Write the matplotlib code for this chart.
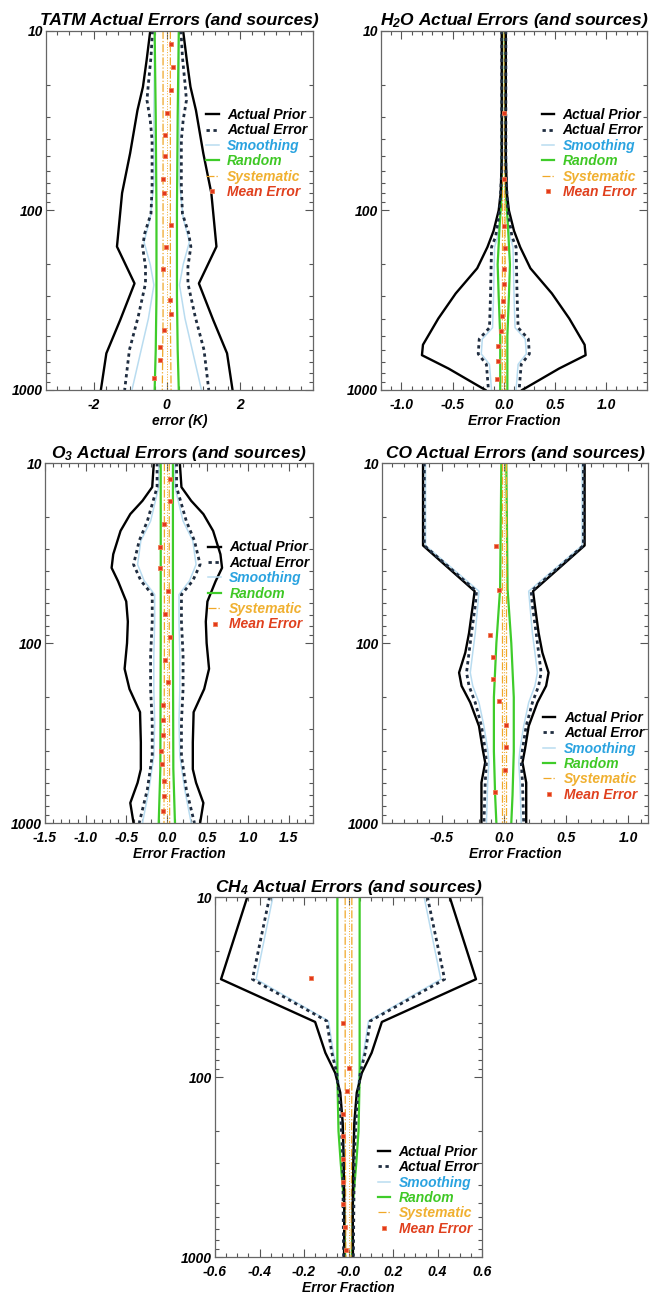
import numpy as np
import matplotlib.pyplot as plt
from matplotlib.lines import Line2D
from matplotlib.ticker import MultipleLocator, LogLocator, NullFormatter

plt.rcParams['font.family'] = ['Liberation Sans', 'DejaVu Sans']
plt.rcParams['font.weight'] = 'bold'
plt.rcParams['font.style'] = 'italic'
plt.rcParams['axes.titleweight'] = 'bold'
plt.rcParams['axes.labelweight'] = 'bold'
plt.rcParams['mathtext.fontset'] = 'custom'
plt.rcParams['mathtext.rm'] = 'Liberation Sans:italic:bold'
plt.rcParams['mathtext.it'] = 'Liberation Sans:italic:bold'
plt.rcParams['mathtext.bf'] = 'Liberation Sans:italic:bold'

# ---- TATM (K) ----
tatm_p_prior = [10, 14.6, 20.5, 27.7, 48, 80, 159, 255, 407, 625, 1000]
tatm_prior = [0.45, 0.55, 0.65, 0.8, 1.0, 1.22, 1.36, 0.88, 1.27, 1.65, 1.8]
tatm_p_err = [10, 14, 19.6, 24.3, 31.4, 40.6, 73.8, 104, 134, 159, 206, 255, 391, 599, 1000]
tatm_err = [0.39, 0.43, 0.5, 0.54, 0.45, 0.4, 0.4, 0.43, 0.6, 0.66, 0.58, 0.58, 0.78, 1.02, 1.15]
tatm_p_smooth = [10, 30, 70, 110, 150, 200, 260, 400, 600, 1000]
tatm_smooth = [0.33, 0.35, 0.35, 0.45, 0.62, 0.45, 0.35, 0.5, 0.7, 0.95]
tatm_p_rand = [10, 30, 100, 300, 600, 1000]
tatm_rand = [0.33, 0.3, 0.28, 0.28, 0.3, 0.33]
tatm_p_sys = [10, 100, 400, 1000]
tatm_sys = [0.1, 0.1, 0.1, 0.12]
tatm_p_mean = [11.9, 15.9, 21.2, 28.6, 38.1, 50, 67, 80, 120, 159, 213, 316, 378, 463, 574, 681, 861]
tatm_mean = [0.11, 0.17, 0.11, 0.0, -0.04, -0.05, -0.1, -0.08, 0.11, -0.03, -0.1, 0.08, 0.11, -0.08, -0.19, -0.19, -0.35]

# ---- H2O (fraction) ----
h2o_p_prior = [10, 50, 80, 100, 130, 160, 210, 290, 400, 560, 640, 760, 1000]
h2o_prior = [0.02, 0.02, 0.03, 0.05, 0.1, 0.16, 0.26, 0.47, 0.64, 0.79, 0.8, 0.54, 0.18]
h2o_p_err = [10, 60, 100, 140, 160, 300, 450, 520, 630, 720, 1000]
h2o_err = [0.02, 0.02, 0.04, 0.08, 0.12, 0.13, 0.14, 0.24, 0.25, 0.17, 0.15]
h2o_p_smooth = [10, 60, 100, 140, 160, 300, 450, 520, 630, 720, 1000]
h2o_smooth = [0.015, 0.015, 0.03, 0.06, 0.09, 0.1, 0.11, 0.21, 0.22, 0.14, 0.12]
h2o_p_rand = [10, 80, 120, 200, 300, 500, 1000]
h2o_rand = [0.015, 0.02, 0.04, 0.06, 0.05, 0.035, 0.035]
h2o_p_sys = [10, 100, 1000]
h2o_sys = [0.01, 0.012, 0.015]
h2o_p_mean = [28.7, 66.9, 122, 161, 213, 258, 320, 387, 470, 570, 692, 871]
h2o_mean = [0.0, 0.0, 0.0, 0.01, 0.0, 0.005, -0.01, -0.02, -0.025, -0.06, -0.06, -0.065]

# ---- O3 (fraction) ----
o3_p_prior = [10, 13.6, 16.2, 19.2, 23.8, 32.1, 38.2, 45.4, 58.7, 76, 100, 139, 180, 242, 356, 502, 597, 773, 1000]
o3_prior = [0.16, 0.18, 0.3, 0.45, 0.57, 0.66, 0.68, 0.6, 0.5, 0.48, 0.49, 0.52, 0.46, 0.33, 0.32, 0.32, 0.36, 0.45, 0.41]
o3_p_err = [10, 13.6, 21, 27, 36.6, 45, 53.8, 76, 117, 180, 275, 423, 650, 1000]
o3_err = [0.12, 0.12, 0.24, 0.34, 0.41, 0.32, 0.18, 0.18, 0.2, 0.2, 0.18, 0.18, 0.24, 0.34]
o3_p_smooth = [10, 13.6, 21, 27, 36.6, 45, 53.8, 76, 117, 180, 275, 423, 650, 1000]
o3_smooth = [0.1, 0.1, 0.2, 0.32, 0.36, 0.28, 0.15, 0.15, 0.16, 0.16, 0.15, 0.16, 0.22, 0.3]
o3_p_rand = [10, 100, 500, 1000]
o3_rand = [0.075, 0.075, 0.08, 0.1]
o3_p_sys = [10, 100, 1000]
o3_sys = [0.03, 0.03, 0.035]
o3_p_mean = [12.2, 16.2, 21.9, 29.2, 38.2, 51.6, 69.2, 92.3, 124, 164, 220, 267, 324, 397, 472, 585, 710, 861]
o3_mean = [0.045, 0.045, -0.04, -0.09, -0.09, 0.02, -0.02, 0.045, -0.02, 0.01, -0.05, -0.05, -0.05, -0.07, -0.06, -0.03, -0.03, -0.05]

# ---- CO (fraction) ----
co_p = [10, 28.7, 51.5, 62, 88, 113, 146, 173, 214, 289, 389, 461, 596, 1000]
co_prior = [0.65, 0.65, 0.235, 0.25, 0.28, 0.31, 0.36, 0.34, 0.27, 0.2, 0.17, 0.15, 0.18, 0.18]
co_err = [0.64, 0.64, 0.22, 0.23, 0.26, 0.28, 0.3, 0.28, 0.23, 0.18, 0.15, 0.14, 0.15, 0.16]
co_smooth = [0.63, 0.63, 0.2, 0.21, 0.23, 0.25, 0.27, 0.25, 0.2, 0.16, 0.13, 0.12, 0.13, 0.14]
co_p_rand = [10, 50, 100, 200, 400, 700, 1000]
co_rand = [0.02, 0.03, 0.06, 0.08, 0.08, 0.07, 0.06]
co_p_sys = [10, 100, 1000]
co_sys = [0.015, 0.015, 0.015]
co_p_mean = [28.7, 50.8, 89.9, 120, 159, 211, 284, 380, 506, 676]
co_mean = [-0.06, -0.04, -0.11, -0.09, -0.086, -0.04, 0.016, 0.016, 0.008, -0.07]

# ---- CH4 (fraction) ----
ch4_p_prior = [10, 28.6, 49.4, 73.3, 94.8, 122, 180, 277, 526, 1000]
ch4_prior = [0.455, 0.573, 0.15, 0.104, 0.06, 0.037, 0.026, 0.022, 0.019, 0.02]
ch4_p_err = [10, 28.6, 48.8, 73.3, 94.8, 146, 277, 1000]
ch4_err = [0.355, 0.432, 0.098, 0.075, 0.053, 0.037, 0.026, 0.022]
ch4_smooth = [0.34, 0.415, 0.09, 0.068, 0.048, 0.033, 0.023, 0.02]
ch4_p_rand = [10, 100, 200, 300, 500, 1000]
ch4_rand = [0.05, 0.05, 0.045, 0.035, 0.02, 0.015]
ch4_p_sys = [10, 100, 1000]
ch4_sys = [0.015, 0.015, 0.012]
ch4_p_mean = [28, 49.9, 89.3, 120, 161, 212, 285, 381, 510, 681, 918]
ch4_mean = [-0.17, -0.026, 0.004, -0.008, -0.026, -0.026, -0.026, -0.023, -0.023, -0.016, -0.01]

legend_labels = ['Actual Prior', 'Actual Error', 'Smoothing', 'Random', 'Systematic', 'Mean Error']

c_err = '#1f2d40'
c_smooth = '#b9dcf0'
c_rand = '#3fcc2a'
c_sys = '#f0a828'
c_mean = '#e2381c'
text_colors = ['black', 'black', '#2aa3e0', '#3fc825', '#f0b030', '#e0401e']

panels = [
    dict(title='TATM Actual Errors (and sources)', xlabel='error (K)',
         rect=[0.0694, 0.6998, 0.4027, 0.2764], xlim=(-3.3, 4.0),
         xticks=[-2, 0, 2], xticklabels=['-2', '0', '2'], minor=2 / 6,
         prior=(tatm_p_prior, tatm_prior), err=(tatm_p_err, tatm_err),
         smooth=(tatm_p_smooth, tatm_smooth), rand=(tatm_p_rand, tatm_rand),
         sys=(tatm_p_sys, tatm_sys), mean=(tatm_p_mean, tatm_mean), leg=(0.60, 0.785)),
    dict(title='H$_2$O Actual Errors (and sources)', xlabel='Error Fraction',
         rect=[0.5747, 0.6998, 0.4012, 0.2764], xlim=(-1.2, 1.4),
         xticks=[-1.0, -0.5, 0, 0.5, 1.0], xticklabels=['-1.0', '-0.5', '0.0', '0.5', '1.0'], minor=0.1,
         prior=(h2o_p_prior, h2o_prior), err=(h2o_p_err, h2o_err),
         smooth=(h2o_p_smooth, h2o_smooth), rand=(h2o_p_rand, h2o_rand),
         sys=(h2o_p_sys, h2o_sys), mean=(h2o_p_mean, h2o_mean), leg=(0.604, 0.785)),
    dict(title='O$_3$ Actual Errors (and sources)', xlabel='Error Fraction',
         rect=[0.0679, 0.3664, 0.4042, 0.2771], xlim=(-1.5, 1.8),
         xticks=[-1.5, -1.0, -0.5, 0, 0.5, 1.0, 1.5],
         xticklabels=['-1.5', '-1.0', '-0.5', '0.0', '0.5', '1.0', '1.5'], minor=0.1,
         prior=(o3_p_prior, o3_prior), err=(o3_p_err, o3_err),
         smooth=(o3_p_smooth, o3_smooth), rand=(o3_p_rand, o3_rand),
         sys=(o3_p_sys, o3_sys), mean=(o3_p_mean, o3_mean), leg=(0.61, 0.785)),
    dict(title='CO Actual Errors (and sources)', xlabel='Error Fraction',
         rect=[0.5762, 0.3664, 0.4012, 0.2771], xlim=(-0.98, 1.16),
         xticks=[-0.5, 0, 0.5, 1.0], xticklabels=['-0.5', '0.0', '0.5', '1.0'], minor=0.1,
         prior=(co_p, co_prior), err=(co_p, co_err),
         smooth=(co_p, co_smooth), rand=(co_p_rand, co_rand),
         sys=(co_p_sys, co_sys), mean=(co_p_mean, co_mean), leg=(0.605, 0.312)),
    dict(title='CH$_4$ Actual Errors (and sources)', xlabel='Error Fraction',
         rect=[0.3243, 0.0323, 0.4027, 0.2771], xlim=(-0.6, 0.6),
         xticks=[-0.6, -0.4, -0.2, 0, 0.2, 0.4, 0.6],
         xticklabels=['-0.6', '-0.4', '-0.2', '-0.0', '0.2', '0.4', '0.6'], minor=0.05,
         prior=(ch4_p_prior, ch4_prior), err=(ch4_p_err, ch4_err),
         smooth=(ch4_p_err, ch4_smooth), rand=(ch4_p_rand, ch4_rand),
         sys=(ch4_p_sys, ch4_sys), mean=(ch4_p_mean, ch4_mean), leg=(0.61, 0.312)),
]


def both_sides(ax, p, x, **kw):
    x = np.asarray(x)
    ax.plot(x, p, **kw)
    ax.plot(-x, p, **kw)


fig = plt.figure(figsize=(6.63, 12.99), dpi=100)

for d in panels:
    ax = fig.add_axes(d['rect'])
    both_sides(ax, *d['smooth'], color=c_smooth, lw=1.1)
    both_sides(ax, *d['rand'], color=c_rand, lw=1.6)
    both_sides(ax, *d['sys'], color=c_sys, lw=0.9, ls='-.')
    ax.plot([0, 0], [10, 1000], color=c_sys, lw=0.7, ls=':')
    both_sides(ax, *d['prior'], color='black', lw=1.7)
    both_sides(ax, *d['err'], color=c_err, lw=2.0, ls=(0, (1.2, 1.3)))
    ax.plot(d['mean'][1], d['mean'][0], ls='none', marker='s', ms=3.2,
            mfc=c_mean, mec='#f07a50', mew=0.6)

    ax.set_yscale('log')
    ax.set_ylim(1000, 10)
    ax.set_xlim(*d['xlim'])
    ax.set_yticks([10, 100, 1000])
    ax.set_yticklabels(['10', '100', '1000'])
    ax.yaxis.set_minor_locator(LogLocator(base=10, subs=np.arange(2, 10)))
    ax.yaxis.set_minor_formatter(NullFormatter())
    ax.set_xticks(d['xticks'])
    ax.set_xticklabels(d['xticklabels'])
    ax.xaxis.set_minor_locator(MultipleLocator(d['minor']))
    ax.tick_params(which='both', direction='in', top=True, right=True,
                   color='#555555', width=0.8, labelsize=10)
    ax.tick_params(which='major', length=6)
    ax.tick_params(which='minor', length=3)
    ax.tick_params(axis='x', pad=6)
    ax.tick_params(axis='y', pad=2)
    for s in ax.spines.values():
        s.set_color('#666666')
        s.set_linewidth(0.9)

    ax.set_title(d['title'], fontsize=12.5, fontweight='bold', pad=4)
    ax.set_xlabel(d['xlabel'], fontsize=10, fontweight='bold', labelpad=1)

    handles = [
        Line2D([], [], color='black', lw=1.7),
        Line2D([], [], color=c_err, lw=2.0, ls=(0, (1.2, 1.3))),
        Line2D([], [], color=c_smooth, lw=1.1),
        Line2D([], [], color=c_rand, lw=1.6),
        Line2D([], [], color=c_sys, lw=0.9, ls='-.'),
        Line2D([], [], ls='none', marker='s', ms=3.2, mfc=c_mean, mec='#f07a50', mew=0.6),
    ]
    ax.legend(handles, legend_labels, loc='upper left', bbox_to_anchor=d['leg'],
              frameon=False, fontsize=10, handlelength=0.9, handletextpad=0.6,
              labelspacing=0.1, borderpad=0, borderaxespad=0, labelcolor=text_colors)

fig.savefig('out.png', dpi=100)
